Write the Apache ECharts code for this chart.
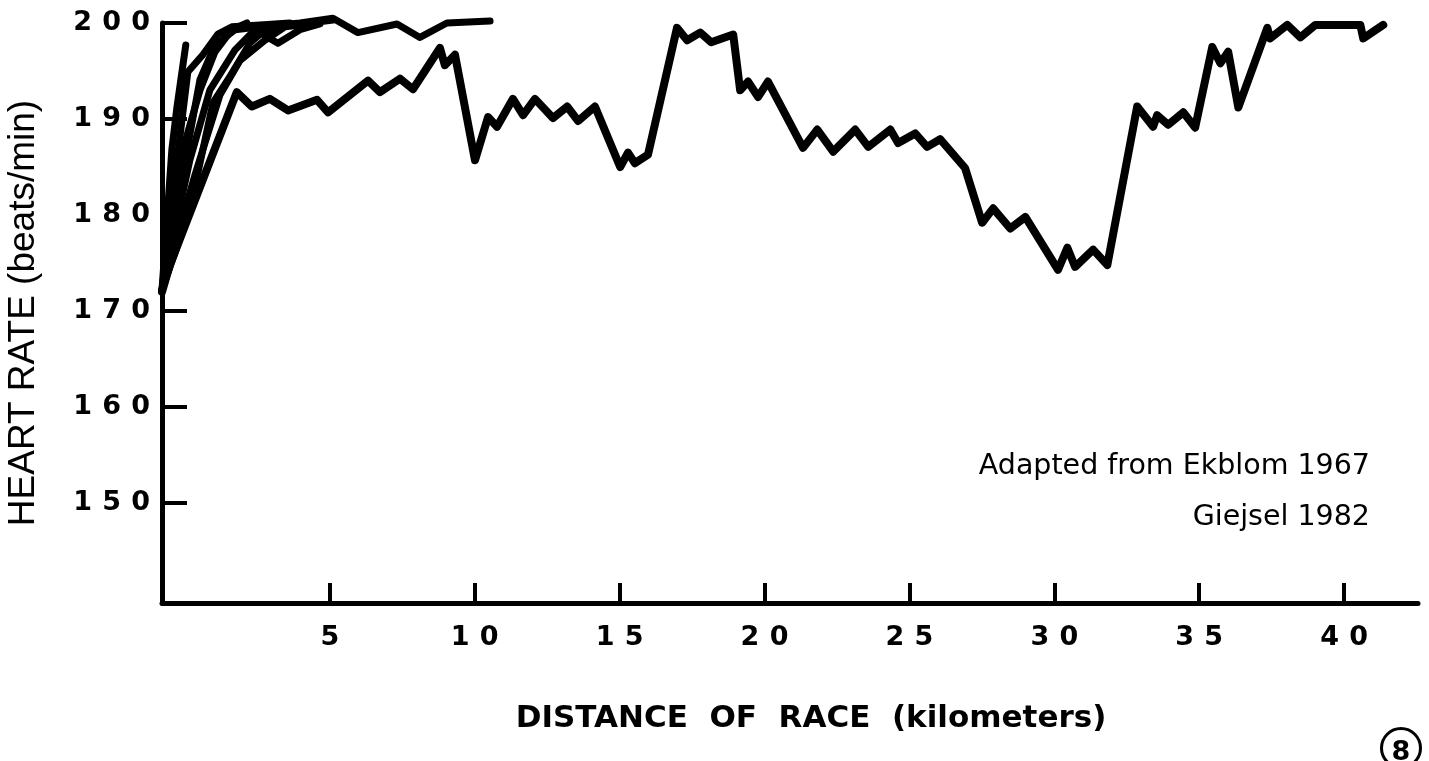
<!DOCTYPE html>
<html>
<head>
<meta charset="utf-8">
<script src="https://cdn.jsdelivr.net/npm/echarts@6/dist/echarts.min.js"></script>
<style>
html,body{margin:0;padding:0;background:#fff;}
#chart{width:1429px;height:761px;}
</style>
</head>
<body>
<div id="chart"></div>
<script>
// ---- data: [distance km, heart rate bpm] ----
const xTickValues = [5, 10, 15, 20, 25, 30, 35, 40];
const yTickValues = [150, 160, 170, 180, 190, 200];

const marathon = [
  [-0.79,172.0],[-0.52,174.8],[1.79,192.8],[2.31,191.3],[2.93,192.1],[3.56,190.9],[4.56,192.0],[4.94,190.7],
  [6.32,194.0],[6.73,192.8],[7.42,194.2],[7.87,193.1],[8.80,197.4],[8.97,195.6],[9.32,196.7],[10.01,185.7],
  [10.46,190.2],[10.77,189.2],[11.32,192.1],[11.67,190.4],[12.08,192.1],[12.70,190.1],[13.19,191.3],[13.57,189.8],
  [14.15,191.3],[15.02,185.0],[15.29,186.5],[15.53,185.4],[15.98,186.3],[16.98,199.5],[17.33,198.2],[17.78,199.0],
  [18.16,198.0],[18.92,198.8],[19.16,193.0],[19.43,193.9],[19.78,192.3],[20.12,193.9],[21.33,187.0],[21.82,188.9],
  [22.37,186.6],[23.13,188.9],[23.58,187.1],[24.34,188.9],[24.61,187.5],[25.20,188.5],[25.61,187.1],[26.06,187.9],
  [26.92,184.9],[27.51,179.2],[27.89,180.7],[28.48,178.6],[29.00,179.8],[30.13,174.3],[30.45,176.6],[30.72,174.6],
  [31.34,176.4],[31.83,174.8],[32.86,191.3],[33.41,189.2],[33.55,190.4],[33.93,189.4],[34.45,190.7],[34.86,189.1],
  [35.45,197.5],[35.73,195.8],[36.00,197.0],[36.35,191.2],[37.35,199.5],[37.45,198.4],[38.04,199.8],[38.49,198.5],
  [39.01,199.8],[40.56,199.8],[40.66,198.4],[41.35,199.8]
];
const race10k = [
  [-0.79,172.2],[-0.24,181.6],[0.52,194.1],[1.04,197.7],[1.73,199.3],[2.59,199.6],[3.97,200.0],[5.11,200.5],
  [5.97,199.0],[7.32,199.9],[8.11,198.5],[9.04,200.0],[10.53,200.2]
];
const runA = [[-0.79,172.2],[-0.45,186.8],[-0.28,191.1],[0.03,197.7]];
const runB = [[-0.79,172.2],[-0.31,184.7],[0.10,194.9],[0.62,196.7],[1.14,198.85],[1.62,199.6],[2.59,199.8],[3.62,200.0]];
const runC = [[-0.79,172.2],[-0.07,186.8],[0.52,193.0],[1.04,197.0],[1.62,199.3],[2.14,200.0]];
const runD = [[-0.79,172.2],[0.17,185.7],[0.86,193.0],[1.73,197.2],[2.42,199.3],[3.21,197.9],[3.97,199.3],[4.66,199.9]];
const runE = [[-0.79,172.2],[0.35,184.2],[1.21,192.5],[1.90,196.1],[2.76,198.2],[3.45,199.6],[4.31,199.9]];
const runF = [[-0.79,172.2],[0.17,180.5],[0.97,191.7],[1.55,194.4],[2.24,197.9],[2.66,199.0],[3.45,199.8],[4.31,200.0],[5.11,200.3]];

const FONT = '"Liberation Sans", Arial, Helvetica, sans-serif';
const WIDE = '"DejaVu Sans", Verdana, sans-serif';
const chart = echarts.init(document.getElementById('chart'), null, {renderer: 'canvas'});

function mk(name, data, w) {
  return {
    name: name, type: 'line', data: data, showSymbol: false, clip: false, silent: true,
    lineStyle: {color: '#000', width: w, cap: 'round', join: 'round'}
  };
}
const spaced = v => String(v).split('').join('\u2008');

chart.setOption({
  animation: false,
  backgroundColor: '#fff',
  grid: {left: 162, right: 11, top: 23, bottom: 158, containLabel: false, outerBoundsMode: 'none'},
  xAxis: {
    type: 'value', min: -0.79, max: 42.55,
    name: 'DISTANCE  OF  RACE  (kilometers)',
    nameLocation: 'middle', nameGap: 100,
    nameTextStyle: {fontFamily: WIDE, fontWeight: 'bold', fontSize: 31, color: '#000', padding: [0, 0, 0, 42]},
    axisLine: {show: true, onZero: false, lineStyle: {color: '#000', width: 5}},
    axisTick: {show: true, inside: true, length: 20, customValues: xTickValues, lineStyle: {color: '#000', width: 4}},
    axisLabel: {
      show: true, customValues: xTickValues, margin: 21,
      fontFamily: WIDE, fontWeight: 'bold', fontSize: 27, color: '#000',
      formatter: spaced
    },
    splitLine: {show: false}
  },
  yAxis: {
    type: 'value', min: 139.6, max: 200,
    name: 'HEART RATE (beats/min)',
    nameLocation: 'middle', nameRotate: 90, nameGap: 120,
    nameTextStyle: {fontFamily: FONT, fontSize: 37, color: '#000'},
    axisLine: {show: true, onZero: false, lineStyle: {color: '#000', width: 5}},
    axisTick: {show: true, inside: true, length: 25, customValues: yTickValues, lineStyle: {color: '#000', width: 4}},
    axisLabel: {
      show: true, customValues: yTickValues, margin: 12,
      fontFamily: WIDE, fontWeight: 'bold', fontSize: 27, color: '#000',
      formatter: spaced
    },
    splitLine: {show: false}
  },
  series: [
    mk('Marathon', marathon, 8),
    mk('10 km', race10k, 7),
    mk('Run A', runA, 7),
    mk('Run B', runB, 7),
    mk('Run C', runC, 7),
    mk('Run D', runD, 7),
    mk('Run E', runE, 7),
    mk('Run F', runF, 7)
  ],
  graphic: [
    {type: 'text', x: 1370, y: 467, style: {text: 'Adapted from Ekblom 1967', fontFamily: WIDE, fontSize: 28.5, fill: '#000', align: 'right', verticalAlign: 'middle'}},
    {type: 'text', x: 1370, y: 518, style: {text: 'Giejsel 1982', fontFamily: WIDE, fontSize: 28.5, fill: '#000', align: 'right', verticalAlign: 'middle'}},
    {type: 'circle', shape: {cx: 1401, cy: 748, r: 19.5}, style: {fill: 'none', stroke: '#000', lineWidth: 3}},
    {type: 'text', x: 1401, y: 753, style: {text: '8', fontFamily: WIDE, fontWeight: 'bold', fontSize: 27, fill: '#000', align: 'center', verticalAlign: 'middle'}}
  ]
});
</script>
</body>
</html>
